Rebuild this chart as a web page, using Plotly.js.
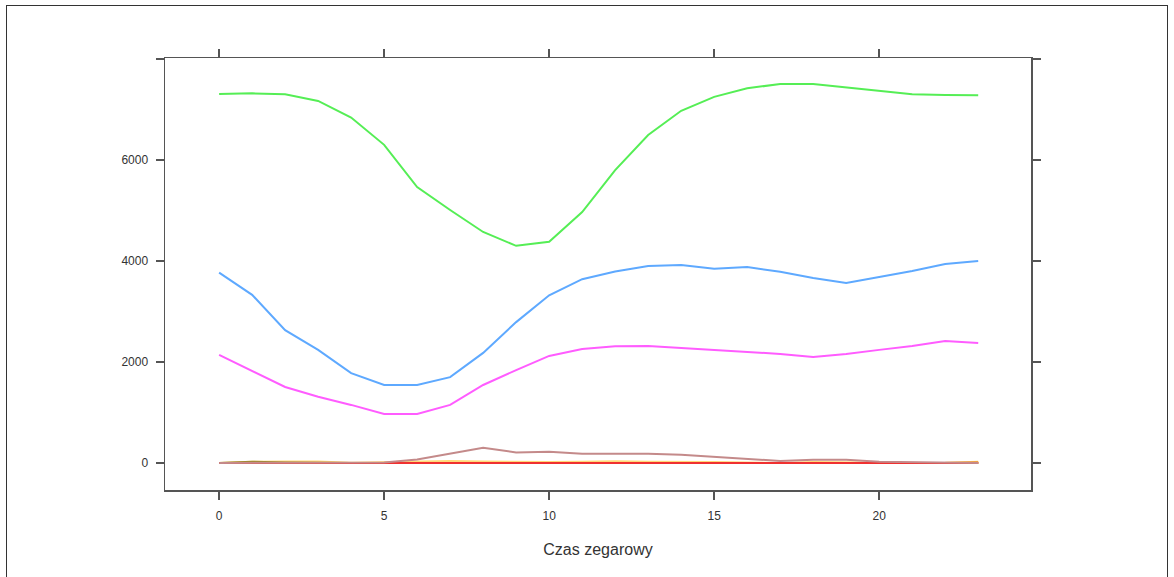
<!DOCTYPE html>
<html>
<head>
<meta charset="utf-8">
<script src="https://cdn.plot.ly/plotly-3.0.1.min.js"></script>
<style>
  html, body { margin: 0; padding: 0; background: #ffffff; }
  #wrap { position: relative; width: 1174px; height: 577px; overflow: hidden; }
  #chart { width: 1174px; height: 577px; }
  #frame { position: absolute; left: 6px; top: 5px; width: 1162px; height: 600px;
           border: 1.5px solid #333; box-sizing: border-box; pointer-events: none; }
</style>
</head>
<body>
<div id="wrap">
  <div id="chart"></div>
  <div id="frame"></div>
</div>
<script>
// hours of the day
const hours = [0,1,2,3,4,5,6,7,8,9,10,11,12,13,14,15,16,17,18,19,20,21,22,23];

// series values
const greenVals   = [7307,7320,7300,7170,6840,6300,5465,5010,4575,4300,4380,4970,5800,6495,6975,7250,7420,7505,7505,7440,7366,7300,7285,7280];
const blueVals    = [3770,3330,2630,2240,1780,1545,1545,1700,2180,2790,3320,3640,3790,3900,3920,3845,3880,3785,3665,3565,3685,3800,3940,4000];
const magentaVals = [2140,1820,1505,1310,1150,970,970,1150,1545,1840,2120,2255,2310,2315,2280,2240,2200,2160,2100,2160,2240,2315,2415,2375];
const brownVals   = [0,0,0,0,0,10,70,190,300,210,220,185,184,184,165,125,92,40,66,66,26,13,0,0];
const yellowVals  = [0,25,30,30,5,15,30,40,30,20,20,25,35,25,30,20,10,0,20,10,5,0,5,25];
const oliveVals   = [0,25,10,0,0,0,0,0,0,0,0,0,0,0,0,0,0,0,0,0,0,0,0,0];
const orangeVals  = [0,0,0,15,10,0,5,15,0,0,0,0,0,0,0,0,0,0,10,0,0,0,0,20];
const orangeRedVals = [0,0,0,0,0,0,0,0,0,0,0,0,0,0,0,0,0,0,0,0,0,0,0,0];
const redVals     = [0,0,0,0,0,0,0,0,0,0,0,0,0,0,0,0,0,0,0,0,0,0,0,0];

const xTickVals = [0,5,10,15,20];
const yTickVals = [0,2000,4000,6000,8000];
const yTickText = ['0','2000','4000','6000',''];

const seriesList = [
  {y: orangeRedVals, color: '#FF6A2A'},
  {y: yellowVals,    color: '#FFD877'},
  {y: oliveVals,     color: '#9A8A22'},
  {y: orangeVals,    color: '#F0A040'},
  {y: redVals,       color: '#F03030'},
  {y: brownVals,     color: '#C48A8A'},
  {y: magentaVals,   color: '#FF5CFF'},
  {y: blueVals,      color: '#5EA9FF'},
  {y: greenVals,     color: '#55EE55'}
];

const traces = seriesList.map(s => ({
  x: hours, y: s.y, type: 'scatter', mode: 'lines',
  line: {color: s.color, width: 2}, showlegend: false, hoverinfo: 'skip'
}));

const axisCommon = {
  showgrid: false, zeroline: false, showline: true, mirror: 'allticks',
  linecolor: '#555', linewidth: 1.5, ticks: 'outside', ticklen: 8,
  tickcolor: '#555', tickwidth: 1.5,
  tickfont: {family: 'Liberation Sans, Arial, sans-serif', size: 12, color: '#333'}
};

const layout = {
  width: 1174, height: 577,
  margin: {l: 165, r: 143, t: 58, b: 87},
  paper_bgcolor: '#ffffff', plot_bgcolor: '#ffffff',
  xaxis: Object.assign({}, axisCommon, {
    range: [-1.64, 24.6], tickmode: 'array', tickvals: xTickVals,
    ticklabelstandoff: 6,
    title: {text: 'Czas zegarowy', standoff: 22,
            font: {family: 'Liberation Sans, Arial, sans-serif', size: 16, color: '#333'}}
  }),
  yaxis: Object.assign({}, axisCommon, {
    range: [-535, 8020], tickmode: 'array', tickvals: yTickVals, ticktext: yTickText,
    ticklabelstandoff: 5
  })
};

Plotly.newPlot('chart', traces, layout, {displayModeBar: false, staticPlot: true});
</script>
</body>
</html>
